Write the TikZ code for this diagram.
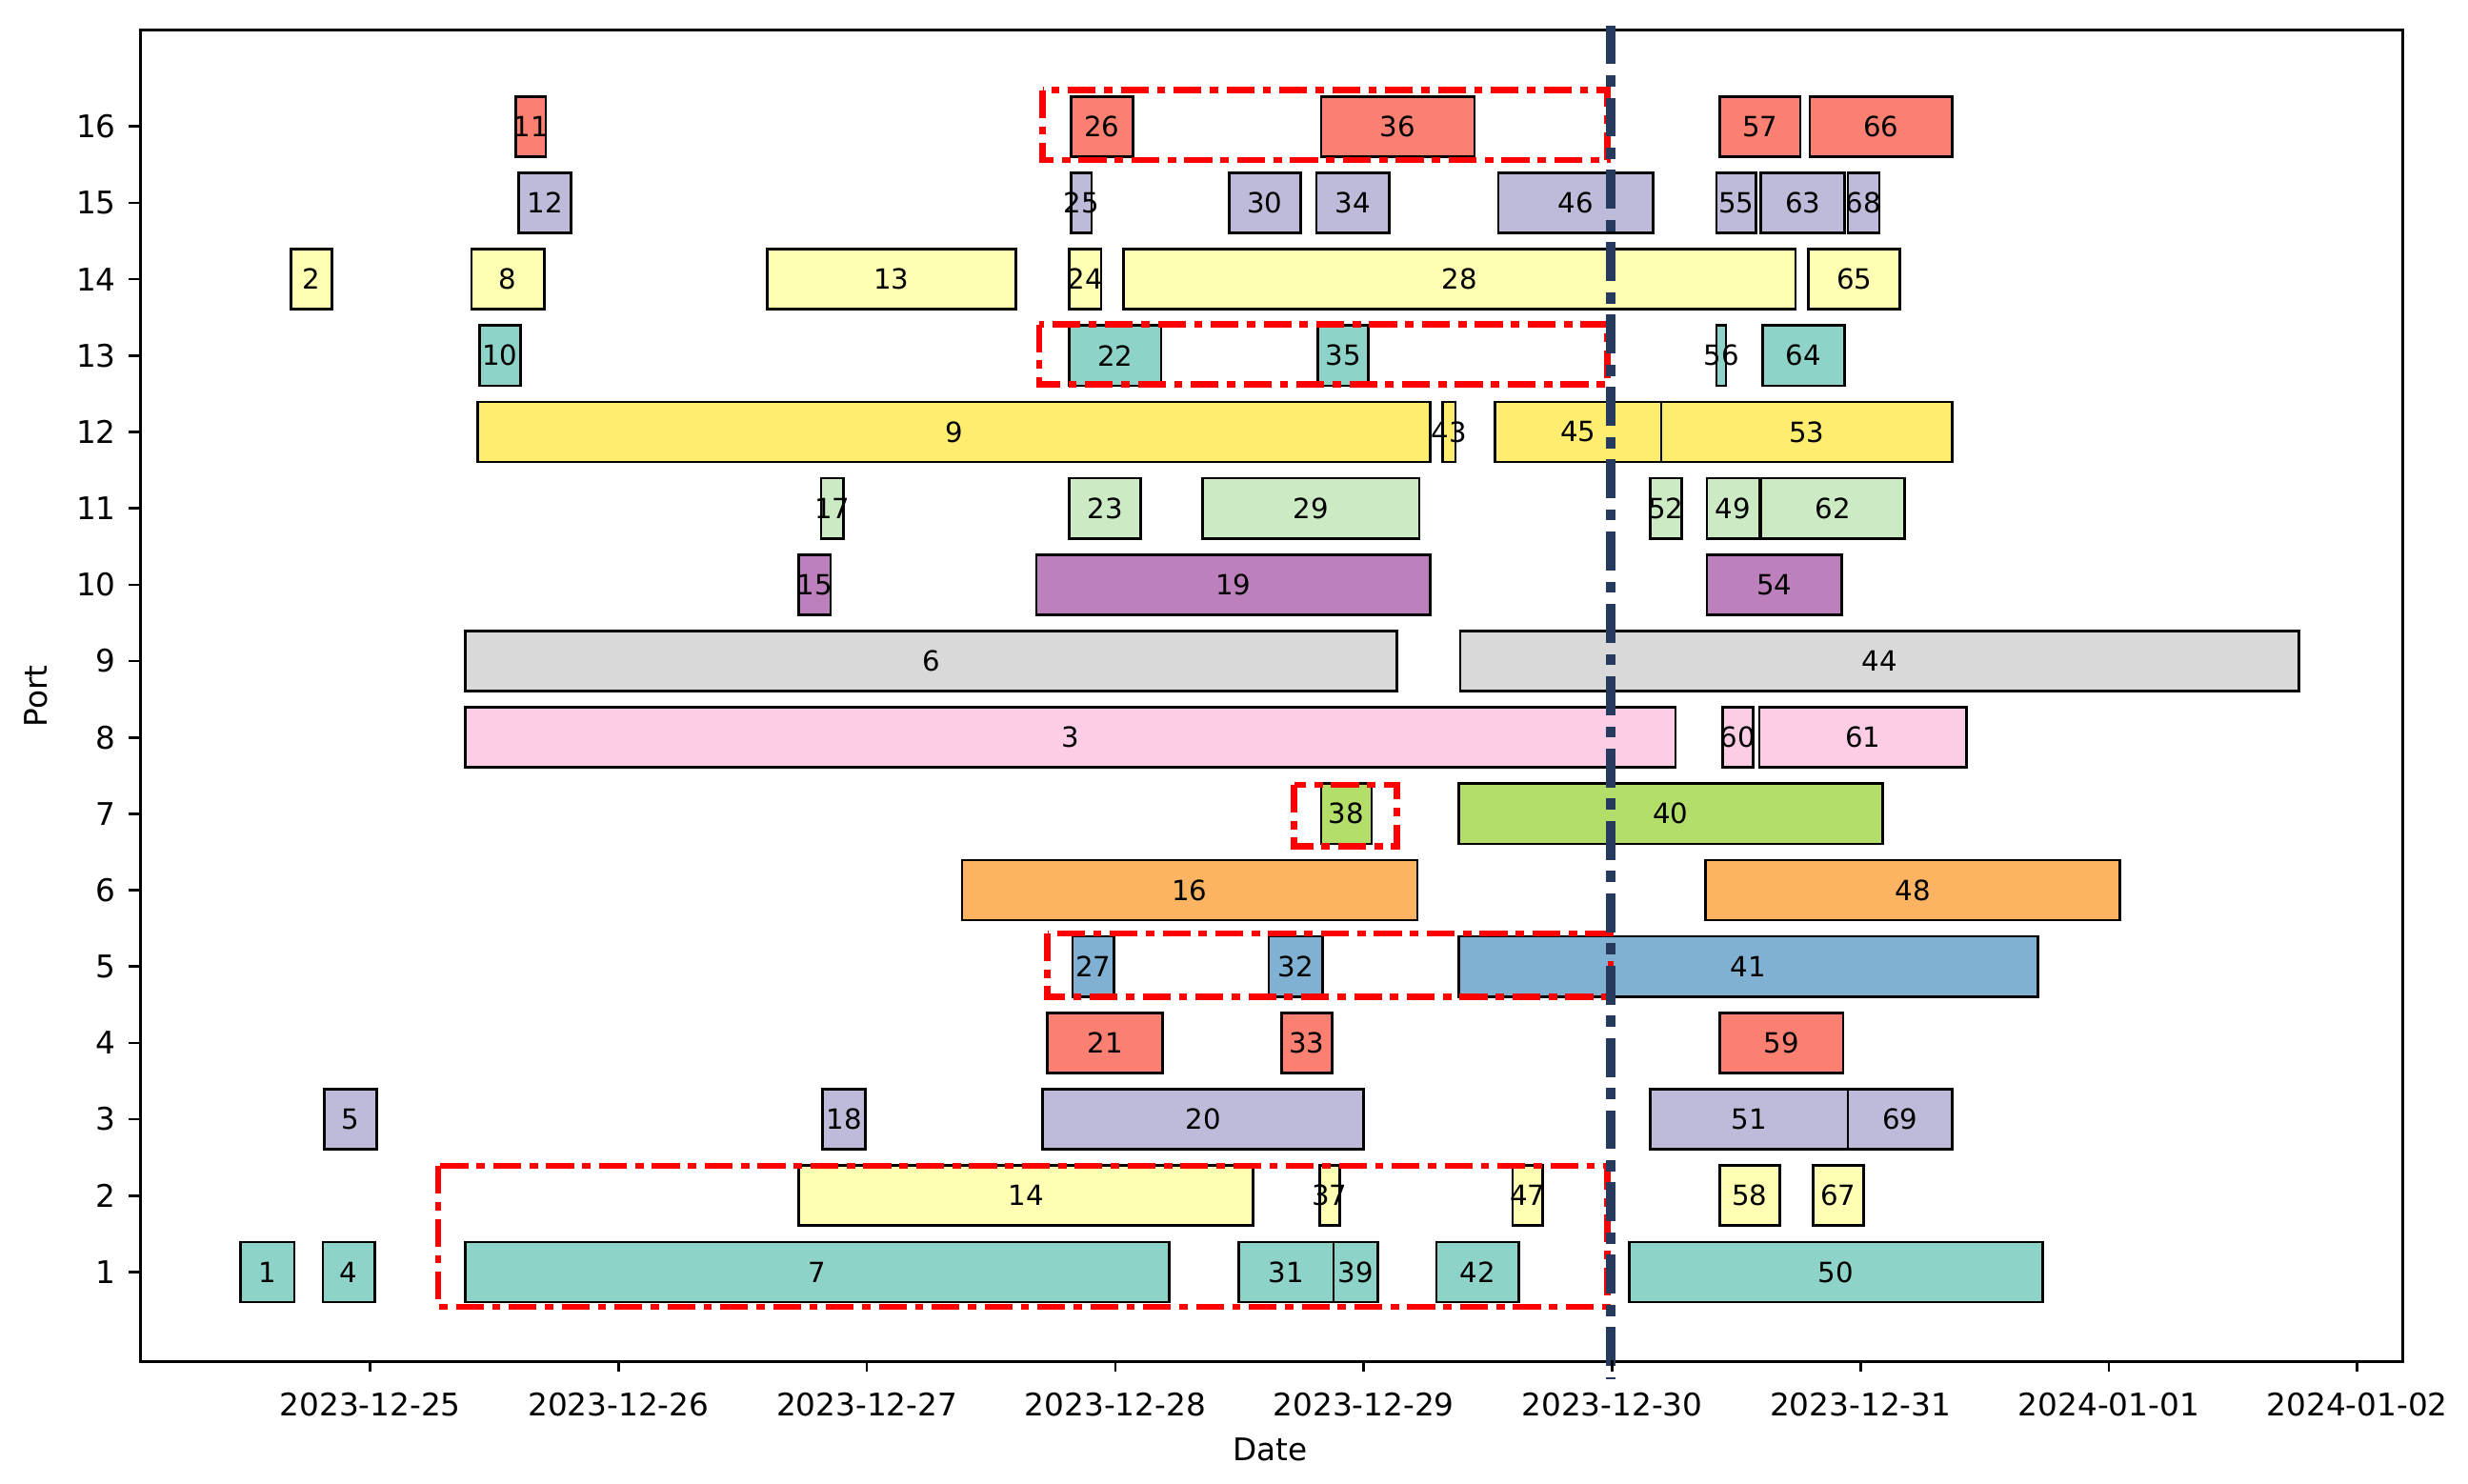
\documentclass[tikz,border=0pt]{standalone}
\usepackage{fontspec}
\setmainfont{DejaVu Sans}
\begin{document}
\begin{tikzpicture}[x=0.01cm,y=-0.01cm,
  barbox/.style={draw=black,line width=0.45pt},
  lbl/.style={font=\fontsize{5pt}{6pt}\selectfont,inner sep=0},
  tick/.style={font=\fontsize{5.6pt}{6.5pt}\selectfont,inner sep=0},
  hl/.style={draw=red,line width=1.1pt,dash pattern=on 5pt off 1.5pt on 1.5pt off 1.5pt}]
\useasboundingbox (0,0) rectangle (1560,938);
\definecolor{c1}{HTML}{8DD3C7}\definecolor{c2}{HTML}{FFFFB3}\definecolor{c3}{HTML}{BEBADA}
\definecolor{c4}{HTML}{FB8072}\definecolor{c5}{HTML}{80B1D3}\definecolor{c6}{HTML}{FDB462}
\definecolor{c7}{HTML}{B3DE69}\definecolor{c8}{HTML}{FCCDE5}\definecolor{c9}{HTML}{D9D9D9}
\definecolor{c10}{HTML}{BC80BD}\definecolor{c11}{HTML}{CCEBC5}\definecolor{c12}{HTML}{FFED6F}
\definecolor{c13}{HTML}{8DD3C7}\definecolor{c14}{HTML}{FFFFB3}\definecolor{c15}{HTML}{BEBADA}
\definecolor{c16}{HTML}{FB8072}\definecolor{navy}{HTML}{253A5C}
\node[draw=black,line width=0.5pt,minimum width=1430*0.01cm,minimum height=842*0.01cm,inner sep=0,anchor=north west] (frame) at (88,18) {};
\foreach \a/\b/\p/\l in {
152/186/1/1,204/237/1/4,294/739/1/7,783/843/1/31,843/871/1/39,908/960/1/42,1030/1291/1/50,
505/792/2/14,834/847/2/37,956/975/2/47,1087/1125/2/58,1146/1178/2/67,
205/238/3/5,520/547/3/18,659/862/3/20,1043/1168/3/51,1168/1234/3/69,
662/735/4/21,810/842/4/33,1087/1165/4/59,
678/704/5/27,802/836/5/32,922/1288/5/41,
608/896/6/16,1078/1340/6/48,
835/867/7/38,922/1190/7/40,
294/1059/8/3,1089/1108/8/60,1112/1243/8/61,
294/883/9/6,923/1453/9/44,
505/525/10/15,655/904/10/19,1079/1164/10/54,
519/533/11/17,676/721/11/23,760/897/11/29,1043/1063/11/52,1079/1112/11/49,1113/1204/11/62,
302/904/12/9,912/920/12/43,945/1050/12/45,1050/1234/12/53,
303/329/13/10,676/734/13/22,833/865/13/35,1085/1091/13/56,1114/1166/13/64,
184/210/14/2,298/344/14/8,485/642/14/13,676/696/14/24,710/1135/14/28,1143/1201/14/65,
328/361/15/12,677/690/15/25,777/822/15/30,832/878/15/34,947/1045/15/46,1085/1110/15/55,1113/1166/15/63,1168/1188/15/68,
326/345/16/11,677/716/16/26,835/932/16/36,1087/1138/16/57,1144/1234/16/66}{
  \pgfmathsetmacro{\yy}{804-(\p-1)*48.27}
  \draw[barbox,fill=c\p] (\a,\yy-19) rectangle (\b,\yy+19);
  \node[lbl] (b\l) at ({(\a+\b)/2},\yy) {\l};
}
\draw[hl] (659,57) rectangle (1016,101);
\draw[hl] (657,205) rectangle (1016,243);
\draw[hl] (818,496) rectangle (883,535);
\draw[hl] (662,590) rectangle (1018,630);
\draw[hl] (277,737) rectangle (1016,826);
\coordinate (vt) at (1018,16);
\coordinate (vb) at (1018,872);
\draw[navy,line width=1.8pt,dash pattern=on 7pt off 2pt on 2pt off 2pt] (vt) -- (vb);
\foreach \p in {1,...,16}{
  \pgfmathsetmacro{\yy}{804-(\p-1)*48.27}
  \draw[line width=0.45pt] (88,\yy) -- (81,\yy);
  \node[tick,anchor=east] (yl\p) at (74,\yy) {\p};
}
\foreach \x/\d in {234/2023-12-25,391/2023-12-26,548/2023-12-27,705/2023-12-28,862/2023-12-29,1019/2023-12-30,1176/2023-12-31,1333/2024-01-01,1490/2024-01-02}{
  \draw[line width=0.45pt] (\x,860) -- (\x,867);
  \node[tick] (xl\x) at (\x,888) {\d};
}
\node[tick] (xt) at (803,916) {Date};
\node[tick,rotate=90] (yt) at (23,440) {Port};
\end{tikzpicture}
\end{document}
